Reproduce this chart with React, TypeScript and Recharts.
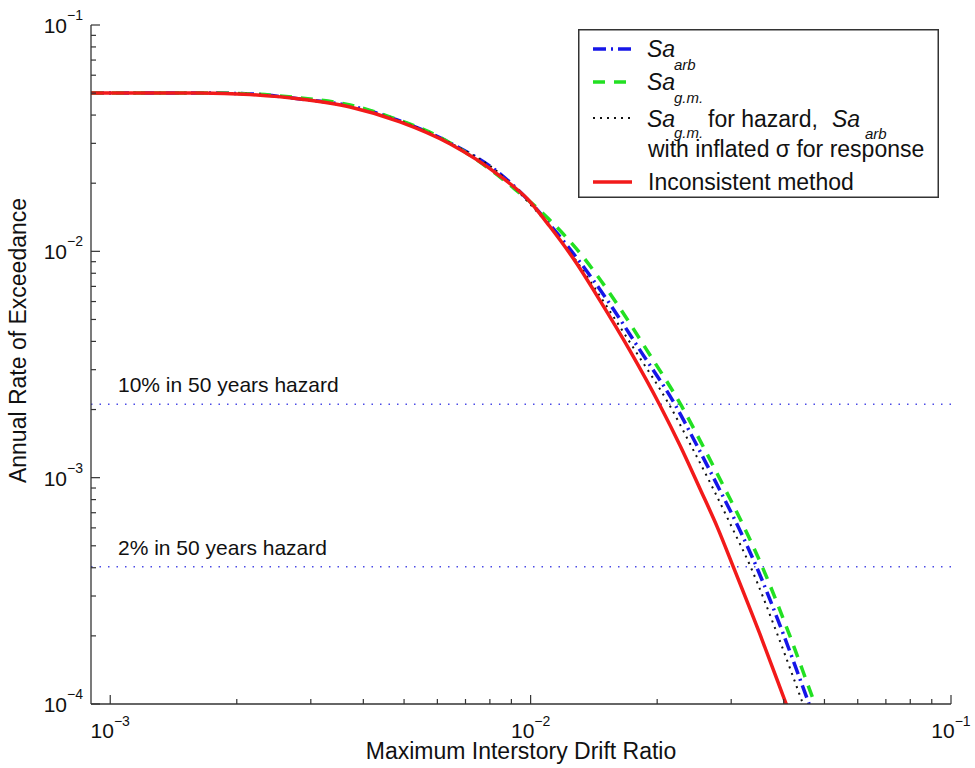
import { LineChart, Line, XAxis, YAxis, ReferenceLine, Legend } from 'recharts'

// drift ratio / annual rate pairs
const arbDrift = [0.0009, 0.00125, 0.00164, 0.00215, 0.00283, 0.00372, 0.00489, 0.00644, 0.00846, 0.00997, 0.0114, 0.0131, 0.0155, 0.0182, 0.0221, 0.0249, 0.0281, 0.0312, 0.0344, 0.0399, 0.0457, 0.0475]
const arbRate = [0.0501, 0.0501, 0.0501, 0.0496, 0.0471, 0.0439, 0.0377, 0.0301, 0.022, 0.0165, 0.0124, 0.00897, 0.00579, 0.00366, 0.00209, 0.00138, 0.000891, 0.000605, 0.000407, 0.000204, 0.000103, 0.0000849]

const gmDrift = [0.0009, 0.00125, 0.00164, 0.00215, 0.00283, 0.00372, 0.00471, 0.00593, 0.00746, 0.00909, 0.011, 0.0131, 0.0163, 0.0189, 0.0228, 0.0257, 0.029, 0.0322, 0.0355, 0.0412, 0.0472, 0.0491]
const gmRate = [0.0501, 0.0501, 0.0501, 0.0496, 0.0476, 0.0443, 0.0388, 0.0327, 0.0253, 0.0191, 0.014, 0.00983, 0.00562, 0.00366, 0.00209, 0.00138, 0.000891, 0.000605, 0.000407, 0.000204, 0.000103, 0.0000849]

const inflDrift = [0.0009, 0.00125, 0.00164, 0.00215, 0.00283, 0.00372, 0.00489, 0.00644, 0.00846, 0.00987, 0.0113, 0.0129, 0.0151, 0.0177, 0.0214, 0.0241, 0.0272, 0.0301, 0.0333, 0.0386, 0.0442, 0.0459]
const inflRate = [0.0501, 0.0501, 0.0501, 0.0496, 0.0471, 0.0434, 0.0377, 0.0301, 0.022, 0.0165, 0.0124, 0.00897, 0.00579, 0.00366, 0.00209, 0.00138, 0.000891, 0.000605, 0.000407, 0.000204, 0.000103, 0.0000849]

const inconDrift = [0.0009, 0.00125, 0.00164, 0.00215, 0.00283, 0.00372, 0.00489, 0.00644, 0.00846, 0.00987, 0.0111, 0.0128, 0.0146, 0.0172, 0.0203, 0.0227, 0.0253, 0.0278, 0.0303, 0.0351, 0.0403, 0.0419]
const inconRate = [0.0501, 0.0501, 0.0501, 0.0493, 0.0471, 0.0434, 0.0373, 0.0298, 0.0215, 0.0169, 0.0129, 0.00897, 0.00609, 0.00366, 0.00209, 0.00138, 0.000891, 0.000605, 0.000407, 0.000204, 0.000103, 0.0000849]

const hazardRates = [0.00211, 0.000404]
const hazardLabels = ['10% in 50 years hazard', '2% in 50 years hazard']

const driftTicks = [0.001, 0.002, 0.003, 0.004, 0.005, 0.006, 0.007, 0.008, 0.009, 0.01, 0.02, 0.03, 0.04, 0.05, 0.06, 0.07, 0.08, 0.09, 0.1]
const rateTicks = [0.0001, 0.0002, 0.0003, 0.0004, 0.0005, 0.0006, 0.0007, 0.0008, 0.0009, 0.001, 0.002, 0.003, 0.004, 0.005, 0.006, 0.007, 0.008, 0.009, 0.01, 0.02, 0.03, 0.04, 0.05, 0.06, 0.07, 0.08, 0.09, 0.1]

const FONT = '"Liberation Sans", Arial, Helvetica, sans-serif'
const AXIS = '#333'

const zip = (xs: number[], ys: number[]) => xs.map((drift, i) => ({ drift, rate: ys[i] }))

const series = [
  { id: 'arb', data: zip(arbDrift, arbRate), color: '#1616e8', width: 3.5, dash: '13 5 2 5' },
  { id: 'gm', data: zip(gmDrift, gmRate), color: '#22e022', width: 3.5, dash: '12 9' },
  { id: 'infl', data: zip(inflDrift, inflRate), color: '#111', width: 2, dash: '2 5' },
  { id: 'incon', data: zip(inconDrift, inconRate), color: '#f21a1a', width: 3.5, dash: undefined },
]

const isDecade = (v: number) => Math.abs(Math.log10(v) - Math.round(Math.log10(v))) < 1e-9
const expo = (v: number) => '\u2212' + Math.abs(Math.round(Math.log10(v)))

function XTick({ x, y, payload, top }: any) {
  const v = payload.value
  const major = isDecade(v)
  const len = major ? 9 : 5
  const dir = top ? 1 : -1
  return (
    <g>
      <line x1={x} y1={y} x2={x} y2={y + dir * len} stroke={AXIS} strokeWidth={1.2} />
      {major && !top && (
        <text x={x} y={y + 34} textAnchor="middle" fontFamily={FONT} fontSize={21} fill="#111">
          10<tspan dy={-12} fontSize={14}>{expo(v)}</tspan>
        </text>
      )}
    </g>
  )
}

function YTick({ x, y, payload, right }: any) {
  const v = payload.value
  const major = isDecade(v)
  const len = major ? 9 : 5
  const dir = right ? -1 : 1
  return (
    <g>
      <line x1={x} y1={y} x2={x + dir * len} y2={y} stroke={AXIS} strokeWidth={1.2} />
      {major && !right && (
        <text x={x - 8} y={y + 8} textAnchor="end" fontFamily={FONT} fontSize={21} fill="#111">
          10<tspan dy={-13} fontSize={14}>{expo(v)}</tspan>
        </text>
      )}
    </g>
  )
}

function XTitle({ viewBox }: any) {
  const vb = viewBox || { x: 91, y: 704, width: 860 }
  return (
    <text x={vb.x + vb.width / 2} y={vb.y + 55} textAnchor="middle" fontFamily={FONT} fontSize={23} fill="#111">
      Maximum Interstory Drift Ratio
    </text>
  )
}

function YTitle({ viewBox }: any) {
  const vb = viewBox || { x: 31, y: 25, width: 60, height: 679 }
  const cx = vb.x + vb.width - 65
  const cy = vb.y + vb.height / 2 - 24
  return (
    <text x={cx} y={cy} transform={`rotate(-90 ${cx} ${cy})`} textAnchor="middle" fontFamily={FONT} fontSize={23} fill="#111">
      Annual Rate of Exceedance
    </text>
  )
}

function HazardLabel({ viewBox, text }: any) {
  return (
    <text x={viewBox.x + 27} y={viewBox.y - 12} fontFamily={FONT} fontSize={21} fill="#111">
      {text}
    </text>
  )
}

function LegendBox() {
  const t = { fontFamily: FONT, fontSize: 23, fill: '#111' }
  const sub = { fontFamily: FONT, fontSize: 15, fill: '#111', fontStyle: 'italic' as const }
  const rows = [20, 53, 89, 153]
  return (
    <svg width={361} height={169} style={{ display: 'block' }}>
      <rect x={0.75} y={0.75} width={359.5} height={167.5} fill="#fff" stroke={AXIS} strokeWidth={1.5} />
      {series.map((s, i) => (
        <line key={s.id} x1={15} x2={54} y1={rows[i]} y2={rows[i]} stroke={s.color} strokeWidth={s.width} strokeDasharray={s.dash} />
      ))}
      <text x={69} y={28} {...t} fontStyle="italic">Sa</text>
      <text x={96} y={41} {...sub}>arb</text>
      <text x={69} y={61} {...t} fontStyle="italic">Sa</text>
      <text x={96} y={74} {...sub}>g.m.</text>
      <text x={69} y={98} {...t} fontStyle="italic">Sa</text>
      <text x={96} y={109} {...sub}>g.m.</text>
      <text x={130} y={98} {...t}>for hazard,</text>
      <text x={254} y={98} {...t} fontStyle="italic">Sa</text>
      <text x={287} y={110} {...sub}>arb</text>
      <text x={70} y={128} {...t}>with inflated σ for response</text>
      <text x={70} y={161} {...t}>Inconsistent method</text>
    </svg>
  )
}

export default function App() {
  return (
    <div style={{ position: 'absolute', left: 0, top: 0, background: '#fff' }}>
      <LineChart width={975} height={768} margin={{ top: 25, right: 24, bottom: 34, left: 31 }}>
        <XAxis
          dataKey="drift"
          type="number"
          scale="log"
          domain={[0.0009, 0.1]}
          allowDataOverflow
          ticks={driftTicks}
          interval={0}
          height={30}
          tickSize={0}
          tickMargin={0}
          tick={<XTick />}
          axisLine={{ stroke: AXIS, strokeWidth: 1.3 }}
          label={<XTitle />}
        />
        <XAxis
          xAxisId="top"
          orientation="top"
          type="number"
          scale="log"
          domain={[0.0009, 0.1]}
          allowDataOverflow
          ticks={driftTicks}
          interval={0}
          height={0}
          tickSize={0}
          tickMargin={0}
          tick={<XTick top />}
          axisLine={{ stroke: AXIS, strokeWidth: 1.3 }}
        />
        <YAxis
          type="number"
          scale="log"
          domain={[0.0001, 0.1]}
          allowDataOverflow
          ticks={rateTicks}
          interval={0}
          width={60}
          tickSize={0}
          tickMargin={0}
          tick={<YTick />}
          axisLine={{ stroke: AXIS, strokeWidth: 1.3 }}
          label={<YTitle />}
        />
        <YAxis
          yAxisId="right"
          orientation="right"
          type="number"
          scale="log"
          domain={[0.0001, 0.1]}
          allowDataOverflow
          ticks={rateTicks}
          interval={0}
          width={0}
          tickSize={0}
          tickMargin={0}
          tick={<YTick right />}
          axisLine={{ stroke: AXIS, strokeWidth: 1.3 }}
        />
        {hazardRates.map((r, i) => (
          <ReferenceLine
            key={r}
            y={r}
            stroke="#4b4be6"
            strokeWidth={1.5}
            strokeDasharray="1.5 7"
            label={<HazardLabel text={hazardLabels[i]} />}
          />
        ))}
        {series.map((s) => (
          <Line
            key={s.id}
            data={s.data}
            dataKey="rate"
            name={s.id}
            type="monotone"
            stroke={s.color}
            strokeWidth={s.width}
            strokeDasharray={s.dash}
            dot={false}
            activeDot={false}
            isAnimationActive={false}
          />
        ))}
        <Legend
          layout="horizontal"
          verticalAlign="middle"
          align="center"
          content={<LegendBox />}
          wrapperStyle={{ left: 578, top: 29, width: 361, height: 169 }}
        />
      </LineChart>
    </div>
  )
}
